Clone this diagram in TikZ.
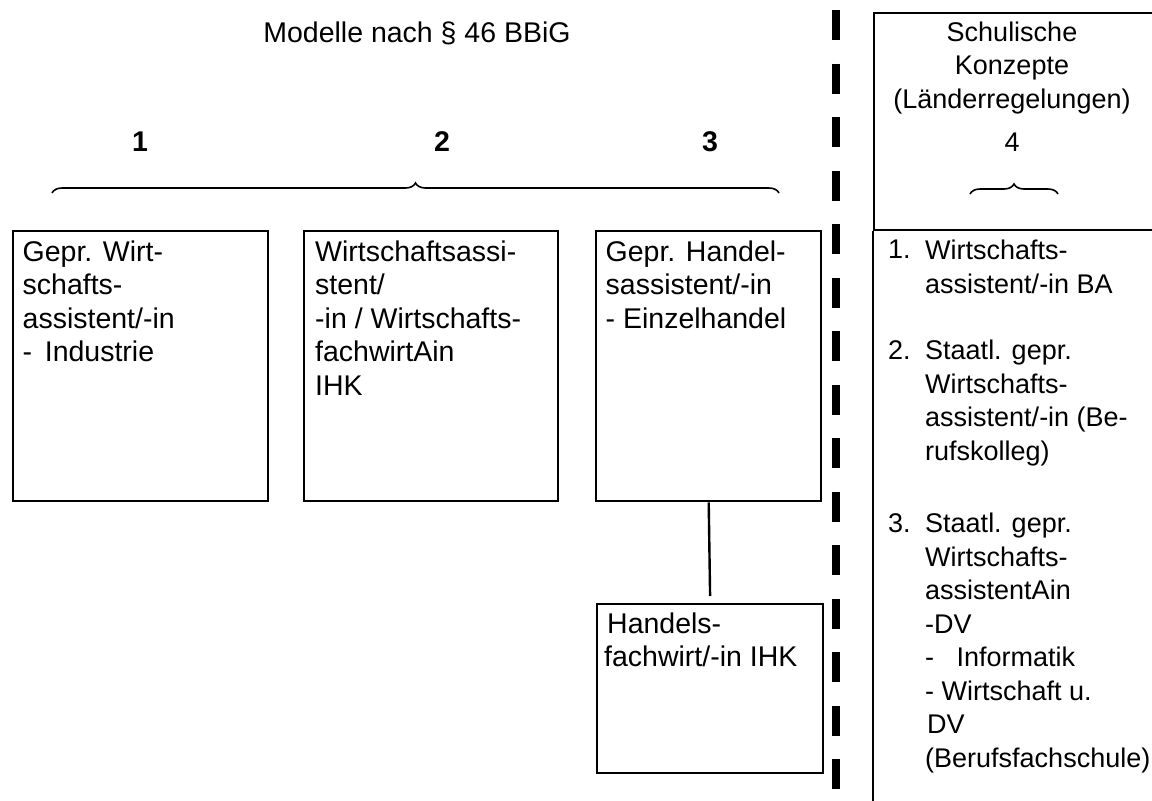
\documentclass[tikz,border=0pt]{standalone}
\usepackage{fontspec}
\setmainfont{Liberation Sans}
\usetikzlibrary{positioning,decorations.pathreplacing}

\begin{document}
\begin{tikzpicture}[
  x=1pt, y=-1pt,
  font=\fontsize{28.5}{33.5}\selectfont,
  model/.style={draw, line width=2.4pt, inner sep=0pt, anchor=north west,
                minimum height=270pt},
  entry/.style={align=left, inner sep=0pt, anchor=north west},
  school/.style={entry, font=\fontsize{27}{33.5}\selectfont},
  num/.style={font=\fontsize{28.5}{33.5}\selectfont\bfseries, inner sep=0pt,
              anchor=base},
  curly/.style={decorate, decoration={brace, amplitude=10pt}, line width=1.6pt},
  divider/.style={line width=7.5pt, dash pattern=on 30pt off 23.5pt},
  link/.style={line width=2.4pt},
]
  \useasboundingbox (0,0) rectangle (1152,801);

  % models after par. 46
  \node[inner sep=0pt, anchor=base] (title) at (417,42) {Modelle nach § 46 BBiG};
  \node[num] (m1) at (140,151) {1};
  \node[num] (m2) at (442,151) {2};
  \node[num] (m3) at (710,151) {3};
  \coordinate (bl) at (52,193);
  \coordinate (br) at (779,193);
  \draw[curly] (bl) -- (br);

  \node[model, minimum width=255pt] (wsi) at (12,230) {};
  \node[entry, below right=10.6pt and 10.5pt of wsi.north west] (wsi-t)
    {Gepr. Wirt-\\schafts-\\assistent/-in\\- \,Industrie};

  \node[model, minimum width=254pt] (wsa) at (303,230) {};
  \node[entry, below right=10.6pt and 12pt of wsa.north west] (wsa-t)
    {Wirtschaftsassi-\\stent/\\-in / Wirtschafts-\\fachwirtAin\\IHK};

  \node[model, minimum width=225pt] (hsa) at (595,230) {};
  \node[entry, below right=10.6pt and 10.5pt of hsa.north west] (hsa-t)
    {Gepr. Handel-\\sassistent/-in\\- Einzelhandel};

  \node[model, minimum width=226pt, minimum height=169pt] (hfw) at (596,603) {};
  \node[entry, below right=9.6pt and 8pt of hfw.north west] (hfw-t)
    {\hspace{3pt}Handels-\\fachwirt/-in IHK};
  \draw[link, shorten >=7pt] (hsa.south) -- (hfw.north);

  % divider
  \coordinate (divtop) at (836,10);
  \coordinate (divfoot) at (836,801);
  \draw[divider] (divtop) -- (divfoot);

  % school concepts
  \node[draw, line width=2.4pt, inner sep=0pt, anchor=north west,
        minimum width=280pt, minimum height=217pt] (schule) at (873,12) {};
  \node[school, align=center, anchor=north] (schule-t) at (1012,21.6)
    {Schulische\\Konzepte\\(Länderregelungen)};
  \node[school, anchor=base] (m4) at (1012,151) {4};
  \coordinate (sl) at (970,194);
  \coordinate (sr) at (1058,194);
  \draw[curly] (sl) -- (sr);
  \coordinate (colfoot) at (873,801);
  \draw[link] (schule.south west) -- (colfoot);

  \node[school] (nr1) at (888,240) {1.};
  \node[school] (li1) at (925,240) {Wirtschafts-\\assistent/-in BA};
  \node[school] (nr2) at (888,340) {2.};
  \node[school] (li2) at (925,340)
    {Staatl. gepr.\\Wirtschafts-\\assistent/-in (Be-\\rufskolleg)};
  \node[school] (nr3) at (888,513) {3.};
  \node[school] (li3) at (925,513)
    {Staatl. gepr.\\Wirtschafts-\\assistentAin\\-DV\\- \ \ Informatik\\
     - Wirtschaft u.\\\hspace{2pt}DV\\(Berufsfachschule)};
\end{tikzpicture}
\end{document}
